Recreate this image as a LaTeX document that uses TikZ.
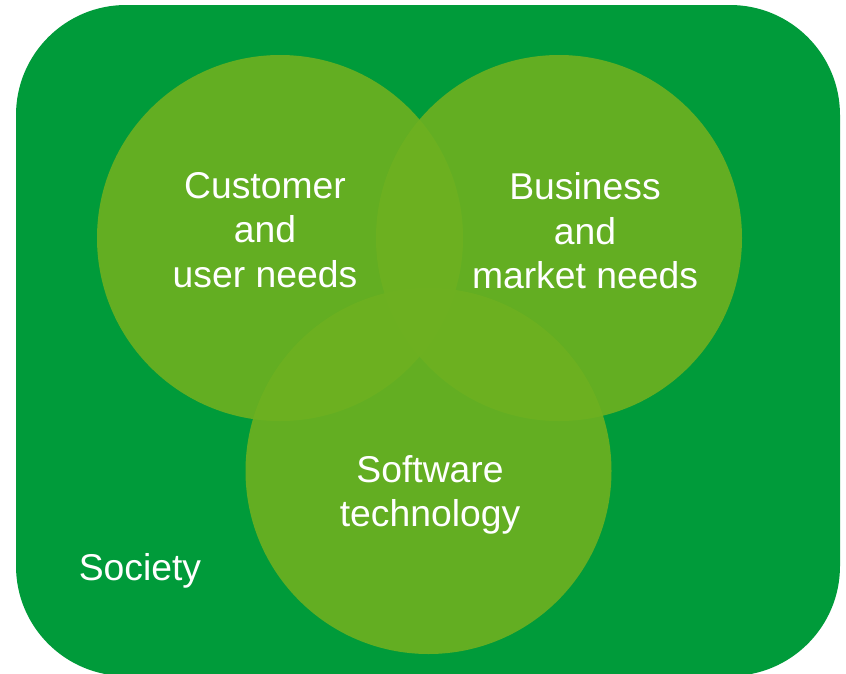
\documentclass[tikz,border=0pt]{standalone}
\usepackage{fontspec}
\setmainfont{Liberation Sans}
\usepackage{xcolor}

\definecolor{society}{RGB}{0,155,58}
\definecolor{need}{RGB}{110,177,32}

\tikzset{
    needtext/.style = {text = white, align = center, font = \fontsize{37.3}{44.5}\selectfont},
    needdisc/.style = {fill = need, fill opacity = 0.9}
}

\begin{document}
\begin{tikzpicture}[x=1pt, y=-1pt]
                \useasboundingbox (0,0) rectangle (846,673);
                \fill[society, rounded corners = 110pt] (16,5) rectangle (840,676);
                
                \fill[needdisc] (280,238) circle (183);
                \fill[needdisc] (559,238) circle (183);
                \fill[needdisc] (428.5,471) circle (183);
                
                \node[needtext] (customer) at (265,230) {Customer\\and\\user needs};
                \node[needtext] (business) at (585,231) {Business\\and\\market needs};
                \node[needtext] (software) at (430,495) {Software\\technology};
                \node[needtext] (society) at (140,571) {Society};
            \end{tikzpicture}
\end{document}
